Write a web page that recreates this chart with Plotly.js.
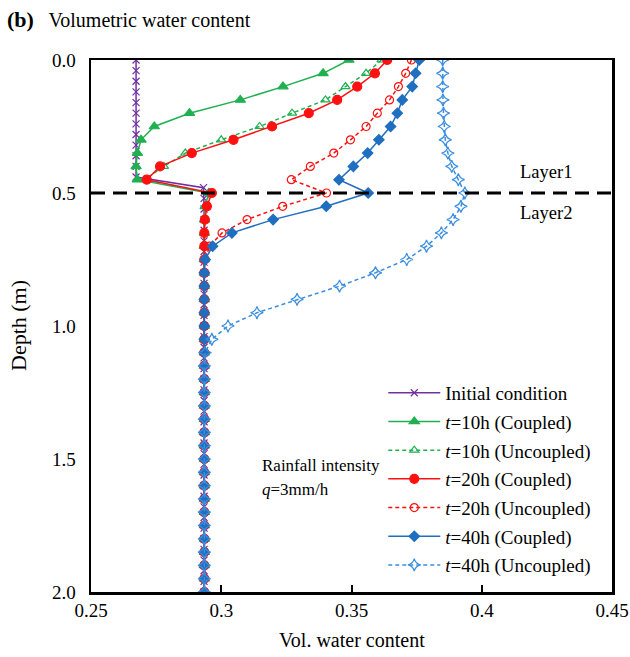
<!DOCTYPE html>
<html>
<head>
<meta charset="utf-8">
<script src="https://cdn.plot.ly/plotly-3.0.1.min.js"></script>
<style>
  html, body { margin: 0; padding: 0; background: #fff; }
  #chart { width: 630px; height: 657px; }
</style>
</head>
<body>
<div id="chart"></div>
<script>
// Depth below ground surface (m), one node every 0.05 m
const depth = [0.00, 0.05, 0.10, 0.15, 0.20, 0.25, 0.30, 0.35, 0.40, 0.45,
               0.50, 0.55, 0.60, 0.65, 0.70, 0.75, 0.80, 0.85, 0.90, 0.95,
               1.00, 1.05, 1.10, 1.15, 1.20, 1.25, 1.30, 1.35, 1.40, 1.45,
               1.50, 1.55, 1.60, 1.65, 1.70, 1.75, 1.80, 1.85, 1.90, 1.95, 2.00];

// Initial profile is given on a finer grid (every 0.04 m)
const depthInitial = [0.00, 0.04, 0.08, 0.12, 0.16, 0.20, 0.24, 0.28, 0.32, 0.36,
                      0.40, 0.44, 0.48, 0.52, 0.56, 0.60, 0.64, 0.68, 0.72, 0.76,
                      0.80, 0.84, 0.88, 0.92, 0.96, 1.00, 1.04, 1.08, 1.12, 1.16,
                      1.20, 1.24, 1.28, 1.32, 1.36, 1.40, 1.44, 1.48, 1.52, 1.56,
                      1.60, 1.64, 1.68, 1.72, 1.76, 1.80, 1.84, 1.88, 1.92, 1.96, 2.00];

// Volumetric water content profiles
const initialCondition = [0.2673, 0.2673, 0.2673, 0.2673, 0.2673, 0.2673, 0.2673, 0.2673, 0.2673, 0.2673,
                          0.2673, 0.2673, 0.2932, 0.2934, 0.2934, 0.2934, 0.2934, 0.2934, 0.2934, 0.2934,
                          0.2934, 0.2934, 0.2934, 0.2934, 0.2934, 0.2934, 0.2934, 0.2934, 0.2934, 0.2934,
                          0.2934, 0.2934, 0.2934, 0.2934, 0.2934, 0.2934, 0.2934, 0.2934, 0.2934, 0.2934,
                          0.2934, 0.2934, 0.2934, 0.2934, 0.2934, 0.2934, 0.2934, 0.2934, 0.2934, 0.2934, 0.2934];

const t10Coupled = [0.3490, 0.3391, 0.3237, 0.3073, 0.2878, 0.2743, 0.2692, 0.2678, 0.2673, 0.2678,
                    0.2952, 0.2938, 0.2936, 0.2935, 0.2935, 0.2935, 0.2935, 0.2935, 0.2935, 0.2935,
                    0.2935, 0.2935, 0.2935, 0.2935, 0.2935, 0.2935, 0.2935, 0.2935, 0.2935, 0.2935,
                    0.2935, 0.2935, 0.2935, 0.2935, 0.2935, 0.2935, 0.2935, 0.2935, 0.2935, 0.2935, 0.2935];

const t10Uncoupled = [0.3615, 0.3556, 0.3477, 0.3400, 0.3272, 0.3147, 0.3000, 0.2862, 0.2780, 0.2705,
                      0.2955, 0.2938, 0.2936, 0.2935, 0.2935, 0.2935, 0.2935, 0.2935, 0.2935, 0.2935,
                      0.2935, 0.2935, 0.2935, 0.2935, 0.2935, 0.2935, 0.2935, 0.2935, 0.2935, 0.2935,
                      0.2935, 0.2935, 0.2935, 0.2935, 0.2935, 0.2935, 0.2935, 0.2935, 0.2935, 0.2935, 0.2935];

const t20Coupled = [0.3637, 0.3590, 0.3522, 0.3445, 0.3336, 0.3195, 0.3047, 0.2887, 0.2765, 0.2714,
                    0.2964, 0.2945, 0.2937, 0.2935, 0.2935, 0.2935, 0.2935, 0.2935, 0.2935, 0.2935,
                    0.2935, 0.2935, 0.2935, 0.2935, 0.2935, 0.2935, 0.2935, 0.2935, 0.2935, 0.2935,
                    0.2935, 0.2935, 0.2935, 0.2935, 0.2935, 0.2935, 0.2935, 0.2935, 0.2935, 0.2935, 0.2935];

const t20Uncoupled = [0.3730, 0.3708, 0.3680, 0.3646, 0.3599, 0.3556, 0.3496, 0.3432, 0.3342, 0.3269,
                      0.3404, 0.3236, 0.3099, 0.3003, 0.2955, 0.2938, 0.2935, 0.2935, 0.2935, 0.2935,
                      0.2935, 0.2935, 0.2935, 0.2935, 0.2935, 0.2935, 0.2935, 0.2935, 0.2935, 0.2935,
                      0.2935, 0.2935, 0.2935, 0.2935, 0.2935, 0.2935, 0.2935, 0.2935, 0.2935, 0.2935, 0.2935];

const t40Coupled = [0.3760, 0.3746, 0.3733, 0.3695, 0.3676, 0.3650, 0.3605, 0.3562, 0.3507, 0.3452,
                    0.3564, 0.3403, 0.3199, 0.3041, 0.2967, 0.2938, 0.2935, 0.2935, 0.2935, 0.2935,
                    0.2935, 0.2935, 0.2935, 0.2935, 0.2935, 0.2935, 0.2935, 0.2935, 0.2935, 0.2935,
                    0.2935, 0.2935, 0.2935, 0.2935, 0.2935, 0.2935, 0.2935, 0.2935, 0.2935, 0.2935, 0.2935];

const t40Uncoupled = [0.3850, 0.3850, 0.3850, 0.3851, 0.3853, 0.3856, 0.3860, 0.3870, 0.3885, 0.3910,
                      0.3935, 0.3920, 0.3890, 0.3845, 0.3788, 0.3712, 0.3592, 0.3454, 0.3291, 0.3137,
                      0.3026, 0.2964, 0.2938, 0.2935, 0.2935, 0.2935, 0.2935, 0.2935, 0.2935, 0.2935,
                      0.2935, 0.2935, 0.2935, 0.2935, 0.2935, 0.2935, 0.2935, 0.2935, 0.2935, 0.2935, 0.2935];

const seriesNames = ['Initial condition',
                     '<i>t</i>=10h (Coupled)', '<i>t</i>=10h (Uncoupled)',
                     '<i>t</i>=20h (Coupled)', '<i>t</i>=20h (Uncoupled)',
                     '<i>t</i>=40h (Coupled)', '<i>t</i>=40h (Uncoupled)'];

const xTickVals = [0.25, 0.30, 0.35, 0.40, 0.45];
const xTickText = ['0.25', '0.3', '0.35', '0.4', '0.45'];
const yTickVals = [0.0, 0.5, 1.0, 1.5, 2.0];
const yTickText = ['0.0', '0.5', '1.0', '1.5', '2.0'];

const interfaceDepth = 0.5;

const SERIF = '"Liberation Serif", "Times New Roman", serif';
const PURPLE = '#7030a0';
const GREEN = '#1fb050';
const RED = '#ff1010';
const BLUE = '#1f6fc0';
const LIGHTBLUE = '#3a8ee0';

function profile(values, depths, name, color, dash, symbol, size, group) {
  return {
    x: values, y: depths, name: name, type: 'scatter', mode: 'lines+markers',
    legendgroup: group,
    line: { color: color, width: 1.5, dash: dash },
    marker: { symbol: symbol, size: size, color: color, line: { color: color, width: 1.2 } }
  };
}

const traces = [
  profile(initialCondition, depthInitial, seriesNames[0], PURPLE, 'solid', 'x-thin-open', 7, 'g0'),
  profile(t10Coupled, depth, seriesNames[1], GREEN, 'solid', 'triangle-up', 9, 'g1'),
  profile(t10Uncoupled, depth, seriesNames[2], GREEN, '4px,3px', 'triangle-up-open', 8, 'g2'),
  profile(t20Coupled, depth, seriesNames[3], RED, 'solid', 'circle', 9, 'g3'),
  profile(t20Uncoupled, depth, seriesNames[4], RED, '4px,3px', 'circle-open', 8, 'g4'),
  profile(t40Coupled, depth, seriesNames[5], BLUE, 'solid', 'diamond', 8, 'g5'),
  profile(t40Uncoupled, depth, seriesNames[6], LIGHTBLUE, '4px,3px', 'star-diamond-open', 9, 'g6')
];

const layout = {
  width: 630, height: 657,
  margin: { l: 91, r: 18, t: 60, b: 65 },
  paper_bgcolor: '#fff', plot_bgcolor: '#fff',
  font: { family: SERIF, color: '#000', size: 19 },
  title: {
    text: '<b><span style="font-size:22px">(b)</span></b>&nbsp;&nbsp; Volumetric water content',
    font: { family: SERIF, size: 20, color: '#000' },
    x: 0.011, xanchor: 'left', xref: 'container',
    y: 1 - 20 / 657, yanchor: 'middle', yref: 'container'
  },
  xaxis: {
    range: [0.25, 0.45], tickvals: xTickVals, ticktext: xTickText,
    ticks: 'inside', ticklen: 7, tickwidth: 2, tickcolor: '#000',
    showline: true, linecolor: '#000', linewidth: 2.5, mirror: true,
    showgrid: false, zeroline: false,
    tickfont: { family: SERIF, size: 19 }
  },
  yaxis: {
    range: [2.0, 0.0], tickvals: yTickVals, ticktext: yTickText,
    ticks: '', showline: true, linecolor: '#000', linewidth: 2.5, mirror: true,
    showgrid: false, zeroline: false,
    tickfont: { family: SERIF, size: 19 },
    ticklabelstandoff: 9
  },
  legend: {
    x: 0.561, xanchor: 'left', y: 0.41, yanchor: 'top',
    bgcolor: 'rgba(0,0,0,0)', borderwidth: 0,
    font: { family: SERIF, size: 19, color: '#000' },
    itemwidth: 52, traceorder: 'grouped', tracegroupgap: 1
  },
  shapes: [{
    type: 'line', xref: 'paper', x0: 0, x1: 1, yref: 'y', y0: interfaceDepth, y1: interfaceDepth,
    line: { color: '#000', width: 3, dash: '14px,8px' }
  }],
  annotations: [
    // axis titles
    { text: 'Depth (m)', xref: 'paper', yref: 'paper', x: (18 - 91) / 521, y: 0.5,
      xanchor: 'center', yanchor: 'middle',
      textangle: -90, showarrow: false, font: { family: SERIF, size: 22 } },
    { text: 'Vol. water content', xref: 'paper', yref: 'paper', x: 0.5, y: (592 - 640) / 531.5,
      xanchor: 'center', yanchor: 'middle',
      showarrow: false, font: { family: SERIF, size: 20 } },
    // layer labels and rainfall note
    { text: 'Layer1', x: 0.4246, y: 0.42, xref: 'x', yref: 'y', showarrow: false,
      font: { family: SERIF, size: 18.5 } },
    { text: 'Layer2', x: 0.4246, y: 0.575, xref: 'x', yref: 'y', showarrow: false,
      font: { family: SERIF, size: 18.5 } },
    { text: 'Rainfall intensity', x: 0.315, y: 1.526, xref: 'x', yref: 'y', xanchor: 'left',
      showarrow: false, font: { family: SERIF, size: 17 } },
    { text: '<i>q</i>=3mm/h', x: 0.315, y: 1.616, xref: 'x', yref: 'y', xanchor: 'left',
      showarrow: false, font: { family: SERIF, size: 17 } }
  ],
  showlegend: true
};

Plotly.newPlot('chart', traces, layout, { displayModeBar: false, staticPlot: true });
</script>
</body>
</html>
